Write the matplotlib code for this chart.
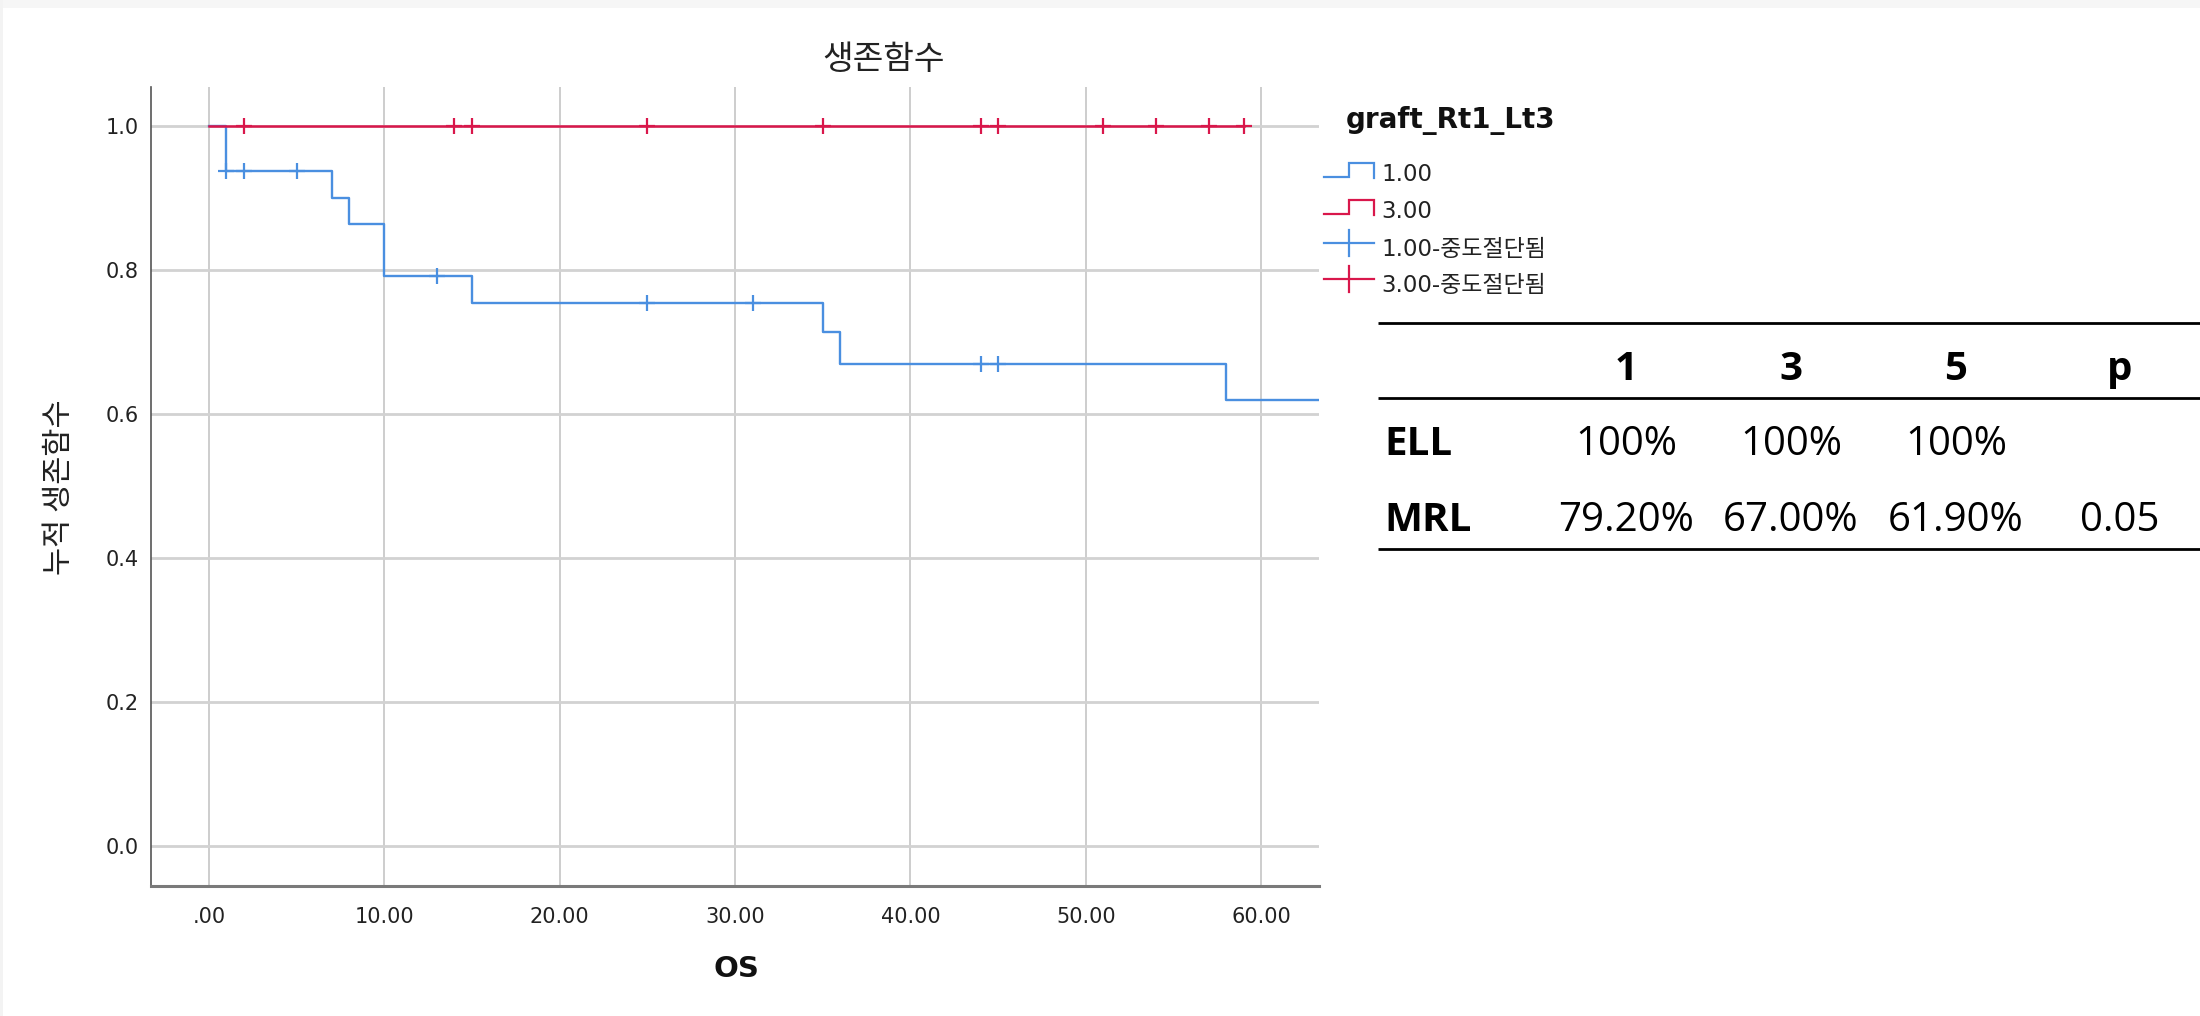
import matplotlib
matplotlib.use('Agg')
import matplotlib.pyplot as plt
from matplotlib.patches import Rectangle
import numpy as np

plt.rcParams['font.family'] = ['DejaVu Sans', 'Noto Sans CJK KR']

# Kaplan-Meier estimates by graft group
blue_t = [0, 1, 7, 8, 10, 15, 35, 36, 58, 66]
blue_s = [1.0, 0.9375, 0.900, 0.864, 0.792, 0.754, 0.7135, 0.670, 0.619, 0.619]
blue_cens = [1, 2, 5, 13, 25, 31, 44, 45]

red_t = [0, 59]
red_s = [1.0, 1.0]
red_cens = [2, 14, 15, 25, 35, 44, 45, 51, 54, 57, 59]

xticks = [0, 10, 20, 30, 40, 50, 60]
xticklabels = ['.00', '10.00', '20.00', '30.00', '40.00', '50.00', '60.00']
yticks = [0.0, 0.2, 0.4, 0.6, 0.8, 1.0]

legend_title = 'graft_Rt1_Lt3'
legend_labels = ['1.00', '3.00', '1.00-중도절단됨', '3.00-중도절단됨']

col_heads = ['1', '3', '5', 'p']
row_names = ['ELL', 'MRL']
row_vals = [['100%', '100%', '100%', ''],
            ['79.20%', '67.00%', '61.90%', '0.05']]

BLUE = '#4a8fe0'
RED = '#d9174b'


def surv_at(t, times, surv):
    idx = np.searchsorted(times, t, side='right') - 1
    return surv[idx]


fig = plt.figure(figsize=(22, 10.16), dpi=100)
W, H = 2200, 1016

ax = fig.add_axes([151 / W, 1 - 886 / H, (1319 - 151) / W, (886 - 87) / H])
ax.set_xlim(-3.3, 63.3)
ax.set_ylim(-0.0556, 1.054)

ax.step(blue_t, blue_s, where='post', color=BLUE, lw=1.7, zorder=3)
ax.step(red_t, red_s, where='post', color=RED, lw=1.8, zorder=4)
ax.plot(blue_cens, [surv_at(t, blue_t, blue_s) for t in blue_cens], ls='none',
        marker='+', ms=12, mew=1.6, color=BLUE, zorder=3)
ax.plot(red_cens, [surv_at(t, red_t, red_s) for t in red_cens], ls='none',
        marker='+', ms=12, mew=1.6, color=RED, zorder=4)

ax.set_xticks(xticks)
ax.set_xticklabels(xticklabels)
ax.set_yticks(yticks)
ax.set_yticklabels(['%.1f' % v for v in yticks])
ax.tick_params(length=0, labelsize=15, labelcolor='#222222')
ax.tick_params(axis='x', pad=15)
ax.tick_params(axis='y', pad=9)

ax.grid(axis='x', color='#c9c9c9', lw=1.3, zorder=0)
ax.grid(axis='y', color='#d2d2d2', lw=2.0, zorder=0)
ax.set_axisbelow(True)
for s in ['top', 'right']:
    ax.spines[s].set_visible(False)
ax.spines['left'].set_color('#555555')
ax.spines['left'].set_linewidth(1.2)
ax.spines['bottom'].set_color('#7a7a7a')
ax.spines['bottom'].set_linewidth(2.2)

fig.text(884 / W, 1 - 59 / H, '생존함수', ha='center', va='center',
         fontsize=24, family=['Noto Sans CJK KR'], color='#222222')
fig.text(60 / W, 1 - 487 / H, '누적 생존함수', ha='center', va='center',
         rotation=90, fontsize=22, family=['Noto Sans CJK KR'], color='#222222')
fig.text(736 / W, 1 - 969 / H, 'OS', ha='center', va='center',
         fontsize=21, fontweight='bold', color='#111111')

# overlay in pixel units for the legend and the summary table
ov = fig.add_axes([0, 0, 1, 1], zorder=10)
ov.set_xlim(0, W)
ov.set_ylim(H, 0)
ov.axis('off')
ov.patch.set_alpha(0)

ov.add_patch(Rectangle((0, 0), W, 8, color='#f6f6f6', lw=0))
ov.add_patch(Rectangle((0, 0), 3, H, color='#f3f3f3', lw=0))

ov.text(1346, 128, legend_title, fontsize=20, fontweight='bold',
        va='baseline', ha='left', color='#111111')
colors = [BLUE, RED, BLUE, RED]
baselines = [181, 218, 256, 292]
for i, (lab, c, b) in enumerate(zip(legend_labels, colors, baselines)):
    if i < 2:
        yl, yh = b - 4, b - 18
        ov.plot([1324, 1349, 1349, 1374, 1374], [yl, yl, yh, yh, yl + 1],
                color=c, lw=1.6, solid_joinstyle='miter')
    else:
        yc = b - 13
        ov.plot([1324, 1374], [yc, yc], color=c, lw=1.6)
        ov.plot([1349, 1349], [yc - 13, yc + 13], color=c, lw=1.6)
    ov.text(1381, b, lab, fontsize=16.5, va='baseline', ha='left', color='#222222')

# summary table
tfam = ['Open Sans', 'DejaVu Sans']
for y in [323, 398, 549]:
    ov.plot([1378, W], [y, y], color='black', lw=2.0, solid_capstyle='butt')
col_x = [1626, 1791, 1956, 2120]
for cx, h in zip(col_x, col_heads):
    ov.text(cx, 380, h, fontsize=29, fontweight='bold', family=tfam,
            ha='center', va='baseline', color='black')
for rb, name, vals in zip([455, 531], row_names, row_vals):
    ov.text(1384, rb, name, fontsize=29, fontweight='bold', family=tfam,
            ha='left', va='baseline', color='black')
    for cx, v in zip(col_x, vals):
        ov.text(cx, rb, v, fontsize=29, family=tfam,
                ha='center', va='baseline', color='black')

fig.savefig('out.png', dpi=100, facecolor='white')
